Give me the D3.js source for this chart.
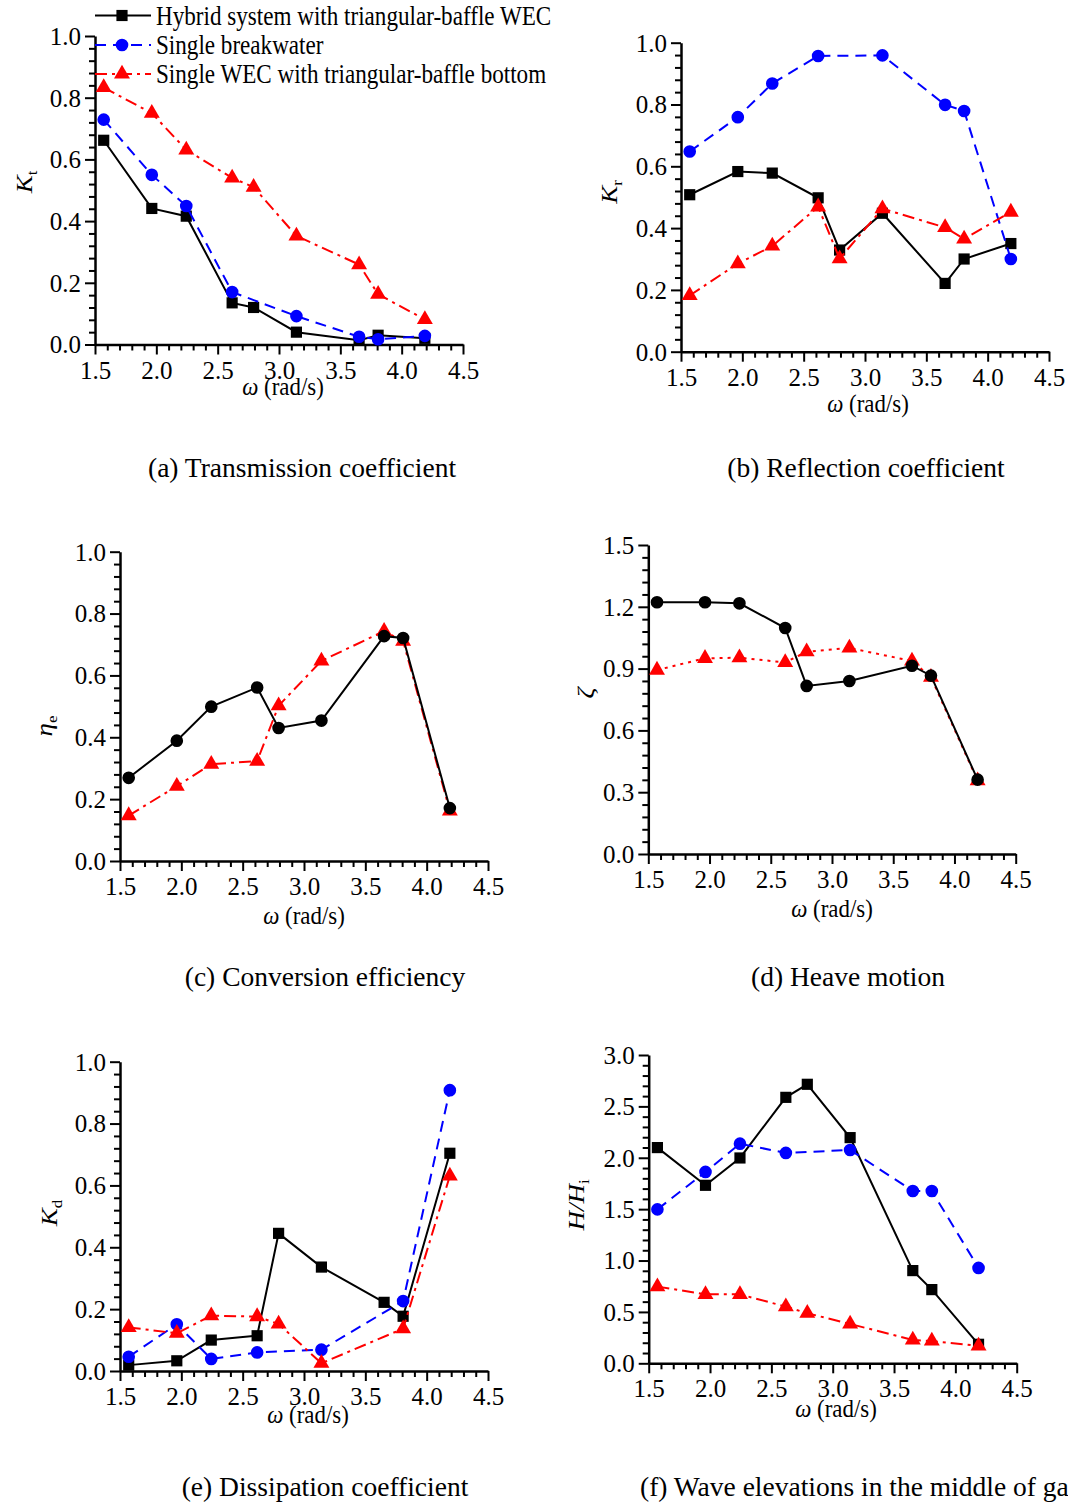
<!DOCTYPE html>
<html><head><meta charset="utf-8">
<script src="https://cdn.jsdelivr.net/npm/d3@7"></script>
<style>
body{margin:0;background:#fff}
svg{display:block}
text{font-family:"Liberation Serif","Times New Roman",serif;fill:#000}
</style>
</head><body>
<svg id="chart" width="1068" height="1504"></svg>
<script>
// ---------- DATA ----------
const omega = [1.571, 1.963, 2.244, 2.618, 2.793, 3.142, 3.653, 3.808, 4.189];
const xTickValues = [1.5, 2.0, 2.5, 3.0, 3.5, 4.0, 4.5];
const seriesNames = ["Hybrid system with triangular-baffle WEC", "Single breakwater", "Single WEC with triangular-baffle bottom"];

// (a) Transmission coefficient
const ktHybrid     = [0.662, 0.441, 0.416, 0.135, 0.120, 0.040, 0.014, 0.030, 0.020];
const ktBreakwater = [0.729, 0.550, 0.449, 0.170, null, 0.092, 0.025, 0.017, 0.028];
const ktWec        = [0.833, 0.750, 0.631, 0.540, 0.510, 0.352, 0.259, 0.163, 0.081];
// (b) Reflection coefficient
const krHybrid     = [0.508, 0.583, 0.578, 0.498, 0.329, 0.448, 0.221, 0.300, 0.350];
const krBreakwater = [0.648, 0.759, 0.868, 0.957, null, 0.959, 0.799, 0.779, 0.300];
const krWec        = [0.182, 0.285, 0.342, 0.469, 0.301, 0.463, 0.402, 0.365, 0.452];
// (c) Conversion efficiency
const etaHybrid    = [0.269, 0.389, 0.499, 0.561, 0.430, 0.454, 0.727, 0.721, 0.171];
const etaWec       = [0.147, 0.242, 0.313, 0.323, 0.502, 0.647, 0.743, 0.711, 0.162];
// (d) Heave motion
const zetaHybrid   = [1.222, 1.222, 1.217, 1.097, 0.816, 0.840, 0.914, 0.866, 0.361];
const zetaWec      = [0.893, 0.950, 0.953, 0.930, 0.982, 1.000, 0.937, 0.858, 0.356];
// (e) Dissipation coefficient
const kdHybrid     = [0.019, 0.033, 0.100, 0.114, 0.445, 0.336, 0.222, 0.177, 0.704];
const kdBreakwater = [0.046, 0.151, 0.039, 0.060, null, 0.069, null, 0.226, 0.908];
const kdWec        = [0.141, 0.122, 0.179, 0.176, 0.152, 0.025, null, 0.137, 0.631];
// (f) Wave elevations in the middle of gap
const hHybrid      = [2.099, 1.732, 1.998, 2.588, 2.715, 2.196, 0.902, 0.717, 0.185];
const hBreakwater  = [1.498, 1.862, 2.137, 2.047, null, 2.076, 1.677, 1.677, 0.928];
const hWec         = [0.746, 0.671, 0.671, 0.551, 0.487, 0.383, 0.227, 0.217, 0.169];

const captions = ["(a) Transmission coefficient", "(b) Reflection coefficient", "(c) Conversion efficiency",
                  "(d) Heave motion", "(e) Dissipation coefficient", "(f) Wave elevations in the middle of gap"];

// ---------- STYLES ----------
const SX = 0.88;           // horizontal compression of titles
const FS = 26;             // title text size
const TFS = 25;            // tick label size
const styles = {
  hybrid:     {color: "#000000", dash: null,         marker: "square"},
  hybridC:    {color: "#000000", dash: null,         marker: "circle"},
  breakwater: {color: "#0000ff", dash: "11,7",       marker: "circle"},
  wec:        {color: "#ff0000", dash: "12,5,3,5",   marker: "triangle"},
  wecDot:     {color: "#ff0000", dash: "3,5",        marker: "triangle"}
};
function markerPath(m) {
  if (m === "square") return d3.symbol(d3.symbolSquare, 125)();
  if (m === "circle") return d3.symbol(d3.symbolCircle, Math.PI * 40)();
  return d3.symbol(d3.symbolTriangle, 110)();
}

const panels = [
  {box: [95, 463, 36, 344.5], ymax: 1.0, ystep: 0.2,
   series: [[ktHybrid, "hybrid"], [ktBreakwater, "breakwater"], [ktWec, "wec"]],
   ytitle: [{t: "K", it: true}, {t: "t", sub: true}], yt: [32, 182], xt: [283, 395],
   cap: [302, 477, "middle"]},
  {box: [681, 1049, 42.7, 351.7], ymax: 1.0, ystep: 0.2,
   series: [[krHybrid, "hybrid"], [krBreakwater, "breakwater"], [krWec, "wec"]],
   ytitle: [{t: "K", it: true}, {t: "r", sub: true}], yt: [617, 192], xt: [868, 412],
   cap: [866, 477, "middle"]},
  {box: [120, 488, 551.7, 861], ymax: 1.0, ystep: 0.2,
   series: [[etaWec, "wec"], [etaHybrid, "hybridC"]],
   ytitle: [{t: "η", it: true}, {t: "e", sub: true}], yt: [52, 726], xt: [304, 924],
   cap: [325, 986, "middle"]},
  {box: [648.3, 1015.7, 545, 854], ymax: 1.5, ystep: 0.3,
   series: [[zetaWec, "wecDot"], [zetaHybrid, "hybridC"]],
   ytitle: [{t: "ζ", it: true}], yt: [593, 693], xt: [832, 917],
   cap: [848, 986, "middle"]},
  {box: [120, 488, 1061.7, 1371], ymax: 1.0, ystep: 0.2,
   series: [[kdHybrid, "hybrid"], [kdBreakwater, "breakwater"], [kdWec, "wec"]],
   ytitle: [{t: "K", it: true}, {t: "d", sub: true}], yt: [57, 1213], xt: [308, 1423],
   cap: [325, 1496, "middle"]},
  {box: [648.7, 1016.7, 1055, 1363.3], ymax: 3.0, ystep: 0.5,
   series: [[hHybrid, "hybrid"], [hBreakwater, "breakwater"], [hWec, "wec"]],
   ytitle: [{t: "H", it: true}, {t: "/", it: true}, {t: "H", it: true}, {t: "i", sub: true}], yt: [584, 1205], xt: [836, 1417],
   cap: [640, 1496, "start"]}
];

const svg = d3.select("#chart");
const fmt = d3.format(".1f");

panels.forEach((p, pi) => {
  const [l, r, t, b] = p.box;
  const x = d3.scaleLinear().domain([1.5, 4.5]).range([l, r]);
  const y = d3.scaleLinear().domain([0, p.ymax]).range([b, t]);
  const g = svg.append("g");

  // minor ticks
  const xMinor = d3.range(15, 46).map(v => v / 10).filter(v => Math.abs(v * 2 - Math.round(v * 2)) > 1e-6);
  const nMaj = Math.round(p.ymax / p.ystep);
  const yMajor = d3.range(0, nMaj + 1).map(i => +(i * p.ystep).toFixed(3));
  const yMinor = d3.range(0, nMaj * 5 + 1).filter(i => i % 5 !== 0).map(i => i * p.ystep / 5);

  g.append("g").attr("transform", `translate(0,${b})`)
    .call(d3.axisBottom(x).tickValues(xMinor).tickSize(6).tickSizeOuter(0).tickFormat(""))
    .call(s => { s.select(".domain").remove(); s.selectAll("line").attr("stroke-width", 2); });
  g.append("g").attr("transform", `translate(${l},0)`)
    .call(d3.axisLeft(y).tickValues(yMinor).tickSize(6).tickSizeOuter(0).tickFormat(""))
    .call(s => { s.select(".domain").remove(); s.selectAll("line").attr("stroke-width", 2); });

  // major axes
  const xa = g.append("g").attr("transform", `translate(0,${b})`)
    .call(d3.axisBottom(x).tickValues(xTickValues).tickSize(10).tickSizeOuter(0).tickFormat(fmt));
  xa.select(".domain").attr("stroke-width", 2.5);
  xa.selectAll("line").attr("stroke-width", 2);
  xa.selectAll("text").attr("y", 34).attr("dy", 0).attr("font-size", TFS)
    .attr("font-family", "Liberation Serif");

  const ya = g.append("g").attr("transform", `translate(${l},0)`)
    .call(d3.axisLeft(y).tickValues(yMajor).tickSize(10).tickSizeOuter(0).tickFormat(fmt));
  ya.select(".domain").attr("stroke-width", 2.5);
  ya.selectAll("line").attr("stroke-width", 2);
  ya.selectAll("text").attr("x", -14).attr("dy", "0.335em").attr("font-size", TFS)
    .attr("font-family", "Liberation Serif");

  // series
  p.series.forEach(([vals, sk]) => {
    const st = styles[sk];
    const pts = omega.map((w, i) => ({w, v: vals[i]})).filter(d => d.v != null);
    g.append("path").datum(pts)
      .attr("d", d3.line().x(d => x(d.w)).y(d => y(d.v)))
      .attr("fill", "none").attr("stroke", st.color).attr("stroke-width", 2)
      .attr("stroke-dasharray", st.dash);
    g.selectAll(null).data(pts).join("path")
      .attr("transform", d => `translate(${x(d.w)},${y(d.v)})`)
      .attr("d", markerPath(st.marker)).attr("fill", st.color);
  });

  // x title
  const xt = g.append("text").attr("text-anchor", "middle").attr("font-size", FS)
    .attr("transform", `translate(${p.xt[0]},${p.xt[1]}) scale(${SX},1)`);
  xt.append("tspan").attr("font-style", "italic").text("ω");
  xt.append("tspan").text(" (rad/s)");

  // y title
  const yt = g.append("text").attr("text-anchor", "middle").attr("font-size", FS + 1)
    .attr("transform", `translate(${p.yt[0]},${p.yt[1]}) rotate(-90) scale(1,${SX})`);
  p.ytitle.forEach(part => {
    const ts = yt.append("tspan").text(part.t);
    if (part.it) ts.attr("font-style", "italic");
    if (part.sub) ts.attr("font-size", 17).attr("dy", 6);
  });

  // caption
  svg.append("text").attr("x", p.cap[0]).attr("y", p.cap[1]).attr("text-anchor", p.cap[2])
    .attr("font-size", 27.5).text(captions[pi]);
});

// ---------- LEGEND ----------
const legKeys = ["hybrid", "breakwater", "wec"];
const legRows = [15.5, 45, 74];
const lg = svg.append("g");
legKeys.forEach((k, i) => {
  const st = styles[k];
  const yy = legRows[i];
  lg.append("line").attr("x1", 95).attr("x2", 151).attr("y1", yy).attr("y2", yy)
    .attr("stroke", st.color).attr("stroke-width", 2).attr("stroke-dasharray", st.dash);
  lg.append("path").attr("transform", `translate(122,${yy})`).attr("d", markerPath(st.marker)).attr("fill", st.color);
  lg.append("text").attr("font-size", 26.5)
    .attr("transform", `translate(156,${yy + 9}) scale(0.872,1)`).text(seriesNames[i]);
});
</script>
</body></html>
